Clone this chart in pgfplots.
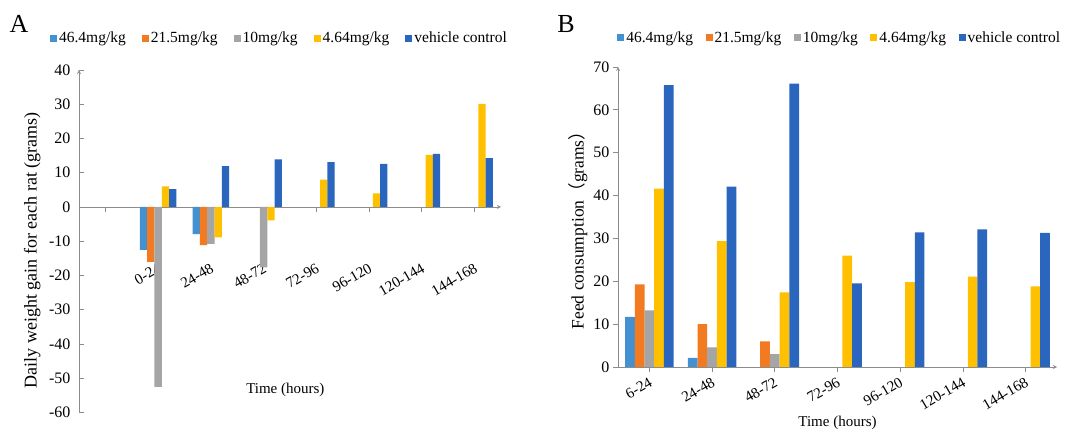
\documentclass[border=0pt]{standalone}
\usepackage{fontspec}
\setmainfont{Liberation Serif}
\newfontfamily\cjk{Noto Sans CJK SC}
\usepackage{pgfplots}
\pgfplotsset{compat=1.18}
\definecolor{cA}{RGB}{68,145,210}
\definecolor{cB}{RGB}{242,122,33}
\definecolor{cC}{RGB}{165,165,165}
\definecolor{cD}{RGB}{255,192,0}
\definecolor{cE}{RGB}{42,102,190}
\definecolor{axc}{RGB}{140,140,140}
\pgfplotsset{
  mystyle/.style={
    scale only axis,
    ybar=0pt,
    axis line style={axc, line width=0.8pt, -},
    tick style={axc, line width=0.8pt},
    major tick length=5pt,
    /pgf/number format/assume math mode=true,
    tick label style={font=\fontsize{16}{19}\selectfont, text=black},
    legend columns=5,
    legend style={font=\fontsize{15.5}{18}\selectfont, draw=none, fill=none, inner sep=0pt, anchor=west},
    legend image code/.code={\fill[##1] (0pt,-3.5pt) rectangle (7pt,3.5pt);},
    every axis plot/.append style={draw=none},
    hide obscured x ticks=false,
    hide obscured y ticks=false,
  }
}
\begin{document}
\begin{tikzpicture}
\useasboundingbox (0,0) rectangle (1071pt,431pt);
\node[font=\fontsize{26}{30}\selectfont] at (19pt,407pt) {A};
\node[font=\fontsize{26}{30}\selectfont] at (566pt,407pt) {B};
\begin{axis}[mystyle, at={(79pt,18.5pt)}, anchor=south west, width=422pt, height=342.5pt,
  xmin=-0.5, xmax=7.5, ymin=-60, ymax=40, ytick={-60,-50,...,40},
  axis x line=middle, axis y line=left,
  xtick={0,...,7}, xticklabels={,0-24,24-48,48-72,72-96,96-120,120-144,144-168},
  bar width=7.3pt,
  xticklabel style={yshift=-46pt, rotate=30, anchor=north east, font=\fontsize{15}{18}\selectfont},
  yticklabel style={xshift=-5pt},
  xlabel={Time (hours)},
  xlabel style={at={(axis description cs:0.489,0.066)}, anchor=center, font=\fontsize{15}{18}\selectfont},
  ylabel={Daily weight gain for each rat (grams)},
  ylabel style={at={(axis description cs:-0.111,0.474)}, anchor=center, font=\fontsize{18}{21}\selectfont},
  legend style={at={(axis description cs:-0.069,1.0934)}, /tikz/every even column/.append style={column sep=14pt}},
  xtick align=outside, ytick align=inside,
]
\addplot[fill=cA] coordinates {(1,-12.5) (2,-7.9)};
\addplot[fill=cB] coordinates {(1,-16.0) (2,-11.1)};
\addplot[fill=cC] coordinates {(1,-52.5) (2,-10.8) (3,-17.6)};
\addplot[fill=cD] coordinates {(1,6.0) (2,-8.9) (3,-3.9) (4,8.0) (5,4.0) (6,15.2) (7,30.1)};
\addplot[fill=cE] coordinates {(1,5.2) (2,11.9) (3,13.9) (4,13.1) (5,12.6) (6,15.5) (7,14.3)};
\legend{46.4mg/kg,21.5mg/kg,10mg/kg,4.64mg/kg,vehicle control}
\end{axis}
\begin{axis}[mystyle, at={(618pt,64pt)}, anchor=south west, width=439pt, height=300pt,
  xmin=-0.5, xmax=6.5, ymin=0, ymax=70, ytick={0,10,...,70},
  axis x line=bottom, axis y line=left,
  xtick={0,...,6}, xticklabels={6-24,24-48,48-72,72-96,96-120,120-144,144-168},
  bar width=9.7pt,
  xticklabel style={rotate=30, anchor=north east, font=\fontsize{15}{18}\selectfont},
  xlabel={Time (hours)},
  xlabel style={at={(axis description cs:0.5,-0.187)}, anchor=center, font=\fontsize{15}{18}\selectfont},
  ylabel={Feed consumption{\cjk （}grams{\cjk ）}},
  ylabel style={at={(axis description cs:-0.091,0.47)}, anchor=center, font=\fontsize{17.5}{21}\selectfont},
  legend style={at={(axis description cs:-0.002,1.0967)}, /tikz/every even column/.append style={column sep=10.5pt}},
  tick align=outside,
]
\addplot[fill=cA] coordinates {(0,11.7) (1,2.1)};
\addplot[fill=cB] coordinates {(0,19.3) (1,10.0) (2,6.0)};
\addplot[fill=cC] coordinates {(0,13.2) (1,4.6) (2,3.0)};
\addplot[fill=cD] coordinates {(0,41.6) (1,29.4) (2,17.4) (3,26.0) (4,19.8) (5,21.1) (6,18.8)};
\addplot[fill=cE] coordinates {(0,65.8) (1,42.1) (2,66.1) (3,19.5) (4,31.4) (5,32.1) (6,31.3)};
\legend{46.4mg/kg,21.5mg/kg,10mg/kg,4.64mg/kg,vehicle control}
\end{axis}
\end{tikzpicture}
\end{document}
